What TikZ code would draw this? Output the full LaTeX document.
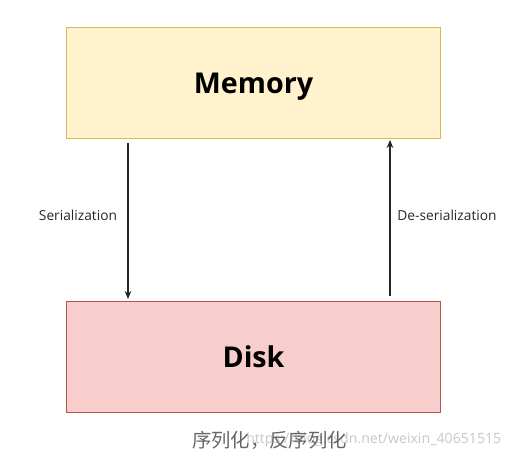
\documentclass[tikz,border=0pt]{standalone}
\usepackage{fontspec}
\usetikzlibrary{arrows.meta}
\setmainfont{Open Sans}
\newfontfamily\cjk{Noto Sans CJK SC}
\begin{document}
\begin{tikzpicture}[x=0.75pt,y=-0.75pt,
  box/.style={draw=#1,line width=0.8pt,minimum width=280.5pt,minimum height=83pt,anchor=north west,inner sep=0pt,text depth=0pt,font=\fontsize{21.5}{24}\selectfont\bfseries},
  lbl/.style={font=\fontsize{10.3}{12}\selectfont,text=black!85},
  arr/.style={-{Stealth[length=6pt,width=5pt]},line width=0.8pt,draw=black!85}]
\useasboundingbox (0,0) rectangle (519,458);
\definecolor{memfill}{HTML}{FFF2CC}\definecolor{memdraw}{HTML}{D6B656}
\definecolor{dskfill}{HTML}{F8CECC}\definecolor{dskdraw}{HTML}{B85450}
\node[box=memdraw,fill=memfill] (mem) at (66,27) {Memory};
\node[box=dskdraw,fill=dskfill] (dsk) at (66,301) {Disk};
\coordinate (s1) at (128,143); \coordinate (s2) at (128,299);
\coordinate (d1) at (390,296); \coordinate (d2) at (390,140);
\draw[arr] (s1) -- (s2);
\draw[arr] (d1) -- (d2);
\node[lbl] (ls) at (78,215) {Serialization};
\node[lbl] (ld) at (447,215) {De-serialization};
\node[font=\fontsize{10.6}{13}\selectfont,text=black!22,anchor=west,inner sep=0pt] (wm) at (246,440) {https://blog.csdn.net/weixin\_40651515};
\node[font=\cjk\fontsize{14.5}{16}\selectfont,text=black!60,anchor=west,inner sep=0pt] (cap) at (192,440) {序列化，反序列化};
\end{tikzpicture}
\end{document}
